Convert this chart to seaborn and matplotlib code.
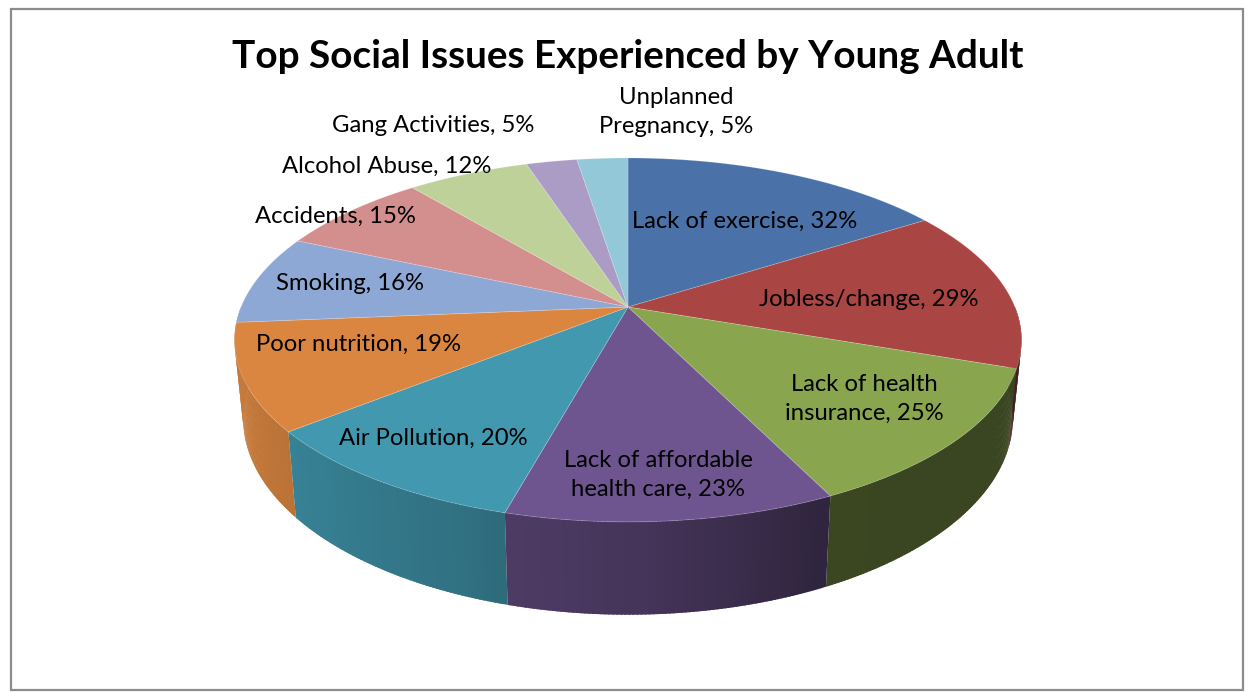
import numpy as np
import matplotlib
matplotlib.use("Agg")
import matplotlib.pyplot as plt
import seaborn as sns
from matplotlib.patches import Polygon, Rectangle
from matplotlib.collections import PolyCollection
from matplotlib.colors import to_rgb

# ---------------- data ----------------
categories = ["Lack of exercise", "Jobless/change", "Lack of health insurance",
              "Lack of affordable health care", "Air Pollution", "Poor nutrition",
              "Smoking", "Accidents", "Alcohol Abuse", "Gang Activities",
              "Unplanned Pregnancy"]
values = [32, 29, 25, 23, 20, 19, 16, 15, 12, 5, 5]
title = "Top Social Issues Experienced by Young Adult"

# ---------------- styles / layout ----------------
colors = ["#4A72A8", "#A94543", "#89A54E", "#6F5590", "#4198AF", "#DA8640",
          "#8EA8D5", "#D38F8D", "#BDD199", "#AB9CC5", "#93C8D8"]
wrap = {"Lack of health insurance": "Lack of health\ninsurance",
        "Lack of affordable health care": "Lack of affordable\nhealth care",
        "Unplanned Pregnancy": "Unplanned\nPregnancy"}
label_xy = [(745, 221), (869, 300), (864, 399), (658, 475), (433, 438), (359, 344),
            (350, 283), (335, 216), (387, 166), (433, 125), (676, 112)]

# pie geometry (pixels): centre, semi-axes, perspective, thickness, wall lean
cx, cy, A, B, k, T, s = 628.0, 307.0, 387.0, 176.0, 0.181, 76.0, 0.978

sns.set_theme(style="white")
plt.rcParams['font.family'] = ['Lato', 'DejaVu Sans']

fig = plt.figure(figsize=(12.48, 6.92), dpi=100)
ax = fig.add_axes([0, 0, 1, 1])
ax.set_xlim(0, 1248)
ax.set_ylim(692, 0)
ax.axis("off")


def proj(phi_deg, drop=False):
    p = np.radians(np.asarray(phi_deg, dtype=float))
    X, Z = np.sin(p), np.cos(p)
    w = 1 + k * Z
    x = cx + A * X / w
    y = cy - B * Z / w
    if drop:
        x = cx + (x - cx) * s
        y = y + T / w
    return x, y


def shade(phi):
    return np.interp(phi, [90, 130, 155, 178, 195, 200, 215, 245, 270],
                     [0.42, 0.42, 0.43, 0.62, 0.70, 0.74, 0.80, 0.90, 0.92])


frac = np.array(values, dtype=float) / np.sum(values)
edges = np.concatenate([[0.0], np.cumsum(frac)]) * 360.0

# ---- side walls (front half), painted far-to-near ----
quads = []
for i in range(len(values)):
    lo, hi = max(edges[i], 90.0), min(edges[i + 1], 270.0)
    if hi <= lo:
        continue
    n = max(2, int((hi - lo) / 0.5) + 1)
    ph = np.linspace(lo, hi, n)
    base = np.array(to_rgb(colors[i]))
    for j in range(n - 1):
        a0 = ph[j]
        a1 = ph[j + 1] + (0.35 if j < n - 2 else 0.0)
        a1 = min(a1, hi)
        xt, yt = proj([a0, a1])
        xb, yb = proj([a0, a1], drop=True)
        poly = [(xt[0], yt[0]), (xt[1], yt[1]), (xb[1], yb[1]), (xb[0], yb[0])]
        c = np.clip(base * shade(0.5 * (ph[j] + ph[j + 1])), 0, 1)
        depth = np.cos(np.radians(0.5 * (ph[j] + ph[j + 1])))
        quads.append((depth, poly, c))
quads.sort(key=lambda q: -q[0])
ax.add_collection(PolyCollection([q[1] for q in quads],
                                 facecolors=[q[2] for q in quads],
                                 edgecolors="none", linewidths=0, zorder=1))

# ---- top face slices ----
for i in range(len(values)):
    ph = np.linspace(edges[i], edges[i + 1], max(3, int((edges[i + 1] - edges[i]) / 0.5) + 1))
    x, y = proj(ph)
    pts = np.column_stack([np.concatenate([[cx], x]), np.concatenate([[cy], y])])
    ax.add_patch(Polygon(pts, closed=True, facecolor=colors[i],
                         edgecolor=(1, 1, 1, 0.22), linewidth=0.6, zorder=2))

# ---- labels ----
texts = []
for i, (cat, v) in enumerate(zip(categories, values)):
    lab = f"{wrap.get(cat, cat)}, {v}%"
    t = ax.text(label_xy[i][0], label_xy[i][1], lab, ha="center", va="center",
                fontsize=19, color="black", linespacing=1.45, zorder=5)
    texts.append(t)

tt = ax.text(628, 56, title, ha="center", va="center", fontsize=30,
             fontweight="bold", color="black", zorder=5)

# fit font sizes to reference widths
fig.canvas.draw()
r = fig.canvas.get_renderer()
w0 = texts[0].get_window_extent(r).width
fs = texts[0].get_fontsize() * 226.0 / w0
for t in texts:
    t.set_fontsize(fs)
tw = tt.get_window_extent(r).width
tt.set_fontsize(tt.get_fontsize() * 792.0 / tw)

# ---- outer frame ----
ax.add_patch(Rectangle((11, 9), 1232, 681, fill=False, edgecolor="#8C8C8C",
                       linewidth=1.6, zorder=6))

fig.savefig("out.png", dpi=100)
